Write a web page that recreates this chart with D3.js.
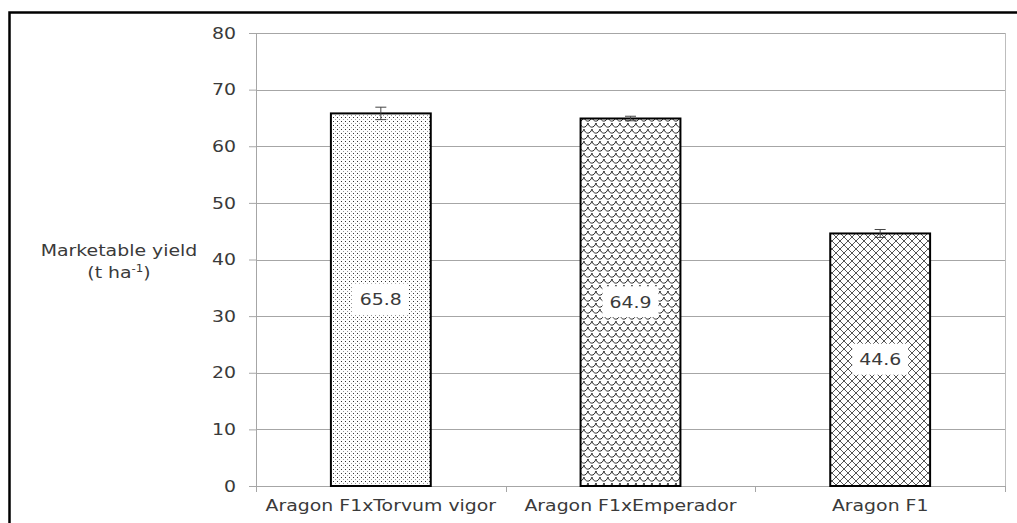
<!DOCTYPE html>
<html>
<head>
<meta charset="utf-8">
<script src="https://cdn.jsdelivr.net/npm/d3@7"></script>
<style>
  body { margin: 0; background: #fff; }
  text { font-family: "DejaVu Sans", sans-serif; fill: #3a3a3a; }
</style>
</head>
<body>
<div id="chart"></div>
<script>
// data
const categories = ["Aragon F1xTorvum vigor", "Aragon F1xEmperador", "Aragon F1"];
const yieldValues = [65.8, 64.9, 44.6];
const errValues = [1.1, 0.4, 0.7];
const patternIds = ["dots", "waves", "cross"];
const yTicks = [0, 10, 20, 30, 40, 50, 60, 70, 80];

const W = 1017, H = 523;
const margin = {top: 33, right: 12, bottom: 37, left: 256};
const width = W - margin.left - margin.right;
const height = H - margin.top - margin.bottom;
const sx = 1.18; // the original text is a bit wider than DejaVu

const svg = d3.select("#chart").append("svg")
    .attr("width", W)
    .attr("height", H);

// fill patterns
const defs = svg.append("defs");

let p = defs.append("pattern").attr("id", "dots")
    .attr("patternUnits", "userSpaceOnUse").attr("width", 4).attr("height", 4);
p.append("rect").attr("width", 4).attr("height", 4).attr("fill", "#fff");
p.append("rect").attr("x", 1).attr("y", 0).attr("width", 1).attr("height", 1).attr("fill", "#333");
p.append("rect").attr("x", 3).attr("y", 2).attr("width", 1).attr("height", 1).attr("fill", "#999");

p = defs.append("pattern").attr("id", "waves")
    .attr("patternUnits", "userSpaceOnUse").attr("width", 8).attr("height", 12);
p.append("rect").attr("width", 8).attr("height", 12).attr("fill", "#fff");
p.append("path").attr("d", "M0,0 C1,5 6,6 8,0 M-4,6 C-3,11 2,12 4,6 M4,6 C5,11 10,12 12,6")
    .attr("fill", "none").attr("stroke", "#222").attr("stroke-width", 1);

p = defs.append("pattern").attr("id", "cross")
    .attr("patternUnits", "userSpaceOnUse").attr("width", 8).attr("height", 8);
p.append("rect").attr("width", 8).attr("height", 8).attr("fill", "#fff");
p.append("path").attr("d", "M0,0 L8,8 M8,0 L0,8")
    .attr("fill", "none").attr("stroke", "#555").attr("stroke-width", 1);

// outer frame
svg.append("rect")
    .attr("x", 9.5).attr("y", 12.5)
    .attr("width", 1100).attr("height", 600)
    .attr("fill", "none").attr("stroke", "#000").attr("stroke-width", 2.5);

const g = svg.append("g")
    .attr("transform", `translate(${margin.left},${margin.top})`);

const x = d3.scaleBand().domain(categories).range([0, width]).padding(0);
const y = d3.scaleLinear().domain([0, 80]).range([height, 0]);

// gridlines
g.selectAll(".grid").data(yTicks).join("line")
    .attr("class", "grid")
    .attr("x1", 0).attr("x2", width)
    .attr("y1", d => Math.round(y(d)) + 0.5).attr("y2", d => Math.round(y(d)) + 0.5)
    .attr("stroke", "#a6a6a6");

// right border of plot
g.append("line")
    .attr("x1", width + 0.5).attr("x2", width + 0.5)
    .attr("y1", 0).attr("y2", height)
    .attr("stroke", "#bdbdbd");

// y axis
const yAxis = g.append("g")
    .call(d3.axisLeft(y).tickValues(yTicks).tickSize(7));
yAxis.select(".domain").attr("stroke", "#a6a6a6");
yAxis.selectAll(".tick line").attr("stroke", "#a6a6a6");
yAxis.selectAll("text")
    .style("font-size", "16px").attr("fill", "#3a3a3a")
    .attr("x", -20 / sx)
    .attr("transform", `scale(${sx},1)`);

// x axis with ticks at band edges
const xAxis = g.append("g")
    .attr("transform", `translate(0,${height})`)
    .call(d3.axisBottom(x).tickSize(0).tickPadding(14));
xAxis.select(".domain").attr("stroke", "#a6a6a6");
xAxis.selectAll("text")
    .style("font-size", "16px").attr("fill", "#3a3a3a")
    .attr("transform", `scale(${sx},1)`);
g.selectAll(".xtick").data(categories.concat([null])).join("line")
    .attr("class", "xtick")
    .attr("x1", (d, i) => Math.round(i * x.bandwidth()) + 0.5)
    .attr("x2", (d, i) => Math.round(i * x.bandwidth()) + 0.5)
    .attr("y1", height).attr("y2", height + 6)
    .attr("stroke", "#a6a6a6");

// bars
const barW = x.bandwidth() * 0.4;
g.selectAll(".bar").data(categories).join("rect")
    .attr("class", "bar")
    .attr("x", d => x(d) + (x.bandwidth() - barW) / 2)
    .attr("y", (d, i) => y(yieldValues[i]))
    .attr("width", barW)
    .attr("height", (d, i) => height - y(yieldValues[i]))
    .attr("fill", (d, i) => `url(#${patternIds[i]})`)
    .attr("stroke", "#000")
    .attr("stroke-width", 2);

// error bars
const eb = g.selectAll(".err").data(categories).join("g").attr("class", "err")
    .attr("transform", d => `translate(${x(d) + x.bandwidth() / 2},0)`);
eb.append("line")
    .attr("y1", (d, i) => y(yieldValues[i] + errValues[i]))
    .attr("y2", (d, i) => y(yieldValues[i] - errValues[i]))
    .attr("stroke", "#444");
eb.append("line").attr("x1", -5.5).attr("x2", 5.5)
    .attr("y1", (d, i) => y(yieldValues[i] + errValues[i]))
    .attr("y2", (d, i) => y(yieldValues[i] + errValues[i]))
    .attr("stroke", "#444");
eb.append("line").attr("x1", -5.5).attr("x2", 5.5)
    .attr("y1", (d, i) => y(yieldValues[i] - errValues[i]))
    .attr("y2", (d, i) => y(yieldValues[i] - errValues[i]))
    .attr("stroke", "#444");

// value labels at bar middle
const lab = g.selectAll(".vlab").data(categories).join("g").attr("class", "vlab")
    .attr("transform", (d, i) => `translate(${x(d) + x.bandwidth() / 2},${y(yieldValues[i] / 2)})`);
lab.append("rect")
    .attr("x", -28).attr("y", -16).attr("width", 56).attr("height", 31)
    .attr("fill", "#fff");
lab.append("text")
    .attr("text-anchor", "middle")
    .attr("dy", "0.36em")
    .attr("transform", `scale(${sx},1)`)
    .style("font-size", "16px")
    .text((d, i) => d3.format(".1f")(yieldValues[i]));

// y axis title
const yt = svg.append("text")
    .attr("x", 119 / sx).attr("y", 256)
    .attr("text-anchor", "middle")
    .attr("transform", `scale(${sx},1)`)
    .style("font-size", "16px");
yt.append("tspan").text("Marketable yield");
const yt2 = svg.append("text")
    .attr("x", 119 / sx).attr("y", 278)
    .attr("text-anchor", "middle")
    .attr("transform", `scale(${sx},1)`)
    .style("font-size", "16px");
yt2.append("tspan").text("(t ha");
yt2.append("tspan").attr("dy", -6).style("font-size", "10px").text("-1");
yt2.append("tspan").attr("dy", 6).text(")");
</script>
</body>
</html>
